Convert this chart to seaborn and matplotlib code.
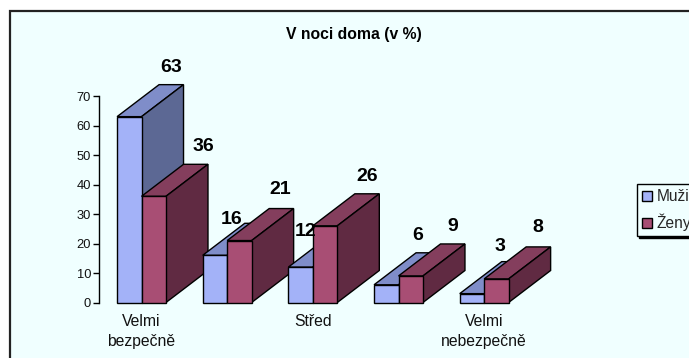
import matplotlib
matplotlib.use("Agg")
import matplotlib.pyplot as plt
from matplotlib.patches import Polygon, Rectangle, Patch
import pandas as pd
import seaborn as sns

categories = ["Velmi\nbezpečně", " ", "Střed", "  ", "Velmi\nnebezpečně"]
series_names = ["Muži", "Ženy"]
muzi = [63, 16, 12, 6, 3]
zeny = [36, 21, 26, 9, 8]
title_text = "V noci doma (v %)"
y_ticks = [0, 10, 20, 30, 40, 50, 60, 70]

# label nudges from the back-top-centre of each bar (pixels)
muzi_nudge = [(0, 17), (-25, 4), (-37, 4), (-11, 17), (-14, 15)]
zeny_nudge = [(8, 18), (-1, 19), (0, 17), (0, 17), (-1, 19)]

front_colors = ["#A3B2F8", "#A84E74"]
top_colors = ["#7F8DC9", "#843E5D"]
side_colors = ["#5C6894", "#602A42"]
bg = "#F0FFFF"

W, H = 689, 358
DEPTH_X, DEPTH_Y = 42, 32  # pixels

sns.set_theme(style="white")
plt.rcParams["font.family"] = ["Liberation Sans", "DejaVu Sans"]

fig = plt.figure(figsize=(W / 100, H / 100), dpi=100, facecolor="white")
frame = Rectangle((9.5 / W, -0.05), 1.1, 1 - 10.5 / H + 0.05, transform=fig.transFigure,
                  facecolor=bg, edgecolor="#222222", linewidth=1.6, zorder=-5)
fig.add_artist(frame)
ax = fig.add_axes([98.7 / W, (H - 302.5) / H, (527 - 98.7) / W, (302.5 - 96) / H])
ax.patch.set_alpha(0)

df = pd.DataFrame({
    "cat": categories * 2,
    "value": muzi + zeny,
    "series": [series_names[0]] * 5 + [series_names[1]] * 5,
})
sns.barplot(data=df, x="cat", y="value", hue="series", order=categories, hue_order=series_names,
            palette=front_colors, width=0.571, gap=0, saturation=1, legend=False, ax=ax,
            edgecolor="black", linewidth=1)
ax.set_xlim(-0.5, 4.5)
ax.set_ylim(0, 70)

# depth of the pseudo-3D extrusion in data units
dx = DEPTH_X / (ax.get_position().width * W / 5)
dy = DEPTH_Y / (ax.get_position().height * H / 70)

bars = [p for p in ax.patches if p.get_height() > 0]
n = len(categories)
for s in range(2):
    for g in range(n):
        bar = bars[s * n + g]
        x0, w, h = bar.get_x(), bar.get_width(), bar.get_height()
        z = 2 + g * 4 + s * 2
        bar.set_zorder(z + 1)
        bar.set_clip_on(False)
        top = Polygon([(x0, h), (x0 + w, h), (x0 + w + dx, h + dy), (x0 + dx, h + dy)],
                      closed=True, facecolor=top_colors[s], edgecolor="black", linewidth=1,
                      zorder=z, clip_on=False)
        side = Polygon([(x0 + w, 0), (x0 + w, h), (x0 + w + dx, h + dy), (x0 + w + dx, dy)],
                       closed=True, facecolor=side_colors[s], edgecolor="black", linewidth=1,
                       zorder=z, clip_on=False)
        ax.add_patch(top)
        ax.add_patch(side)
        nudge = (muzi_nudge, zeny_nudge)[s][g]
        ax.annotate(str(int(h)), (x0 + w / 2 + dx, h + dy),
                    xytext=(nudge[0] * 0.72, nudge[1] * 0.72), textcoords="offset points",
                    ha="center", va="center", fontsize=14, fontweight="bold", color="black",
                    zorder=50, annotation_clip=False)

ax.set_xlabel("")
ax.set_ylabel("")
ax.set_yticks(y_ticks)
ax.tick_params(axis="y", length=4, width=1, color="black", labelsize=9.3, pad=1.5, labelcolor="#111111", left=True)
ax.tick_params(axis="x", length=0, labelsize=11.3, pad=8, labelcolor="#111111")
for lab in ax.get_xticklabels():
    lab.set_linespacing(1.45)
for name in ["top", "right", "bottom"]:
    ax.spines[name].set_visible(False)
ax.spines["left"].set_color("black")
ax.spines["left"].set_linewidth(1)

fig.text(354 / W, (H - 34.5) / H, title_text, ha="center", va="center", fontsize=11.3,
         fontweight="bold", color="black")

handles = [Patch(facecolor=front_colors[i], edgecolor="black", linewidth=1, label=series_names[i])
           for i in range(2)]
leg = fig.legend(handles=handles, loc="upper left", bbox_to_anchor=(636.5 / W, (H - 184) / H),
                 bbox_transform=fig.transFigure, fontsize=11.2, handlelength=0.64, handleheight=0.64,
                 handletextpad=0.33, labelspacing=0.62, borderpad=0.33, borderaxespad=0,
                 fancybox=False, shadow={"color": "black", "alpha": 1, "ox": 1.5, "oy": -1.5}, framealpha=1,
                 facecolor=bg, edgecolor="black")
leg.get_frame().set_linewidth(1)

fig.savefig("out.png", dpi=100)
